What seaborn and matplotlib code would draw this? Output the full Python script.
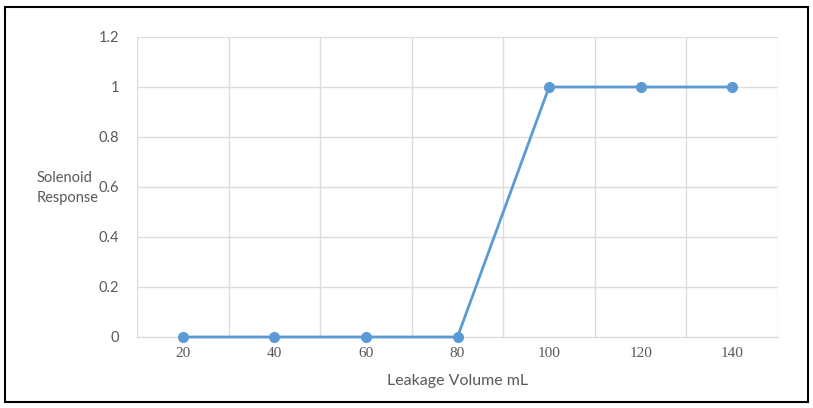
import matplotlib
matplotlib.use("Agg")
import matplotlib.pyplot as plt
import seaborn as sns
import pandas as pd
from matplotlib.patches import Rectangle

volumes = ["20", "40", "60", "80", "100", "120", "140"]
response = [0, 0, 0, 0, 1, 1, 1]
y_ticks = [0, 0.2, 0.4, 0.6, 0.8, 1, 1.2]
y_tick_labels = ["0", "0.2", "0.4", "0.6", "0.8", "1", "1.2"]

df = pd.DataFrame({"volume": volumes, "response": response})

sns.set_theme(style="white")
plt.rcParams['font.family'] = ['Lato', 'DejaVu Sans']

fig = plt.figure(figsize=(8.13, 4.08), dpi=100)
ax = fig.add_axes([137/813, 1-337/408, (778-137)/813, (337-37)/408])

line_color = "#5B9BD5"
sns.pointplot(data=df, x="volume", y="response", ax=ax, color=line_color,
              markers="o", linestyles="-", errorbar=None,
              markersize=6.5, linewidth=2.0)
for art in ax.lines + ax.collections:
    art.set_clip_on(False)
    art.set_zorder(5)

ax.set_xlim(-0.5, len(volumes) - 0.5)
ax.set_ylim(0, 1.2)
ax.set_yticks(y_ticks)
ax.set_yticklabels(y_tick_labels)
ax.set_xticks(range(len(volumes)))
ax.set_xticklabels(volumes, family="Liberation Serif", fontsize=11, color="#595959")

grid_color = "#DCDCDC"
for y in y_ticks[1:]:
    ax.axhline(y, color=grid_color, lw=1, zorder=0)
for i in range(len(volumes) + 1):
    ax.axvline(i - 0.5, color=grid_color, lw=1, zorder=0)

for s in ["top", "right", "left"]:
    ax.spines[s].set_visible(False)
ax.spines["bottom"].set_color(grid_color)
ax.spines["bottom"].set_linewidth(1)

ax.tick_params(axis="y", labelsize=10.5, labelcolor="#595959", length=0, pad=13)
ax.tick_params(axis="x", length=0, pad=7)

ax.set_xlabel("Leakage Volume mL", fontsize=11.5, color="#595959", labelpad=10)
ax.set_ylabel("")
fig.text(37/813, 1-188/408, "Solenoid\nResponse", ha="left", va="center",
         fontsize=10.5, color="#595959", linespacing=1.5)

fig.patches.append(Rectangle((5/813, 6/408), 803/813, 395/408, transform=fig.transFigure,
                             fill=False, edgecolor="black", linewidth=1.5))

fig.savefig("out.png", dpi=100)
